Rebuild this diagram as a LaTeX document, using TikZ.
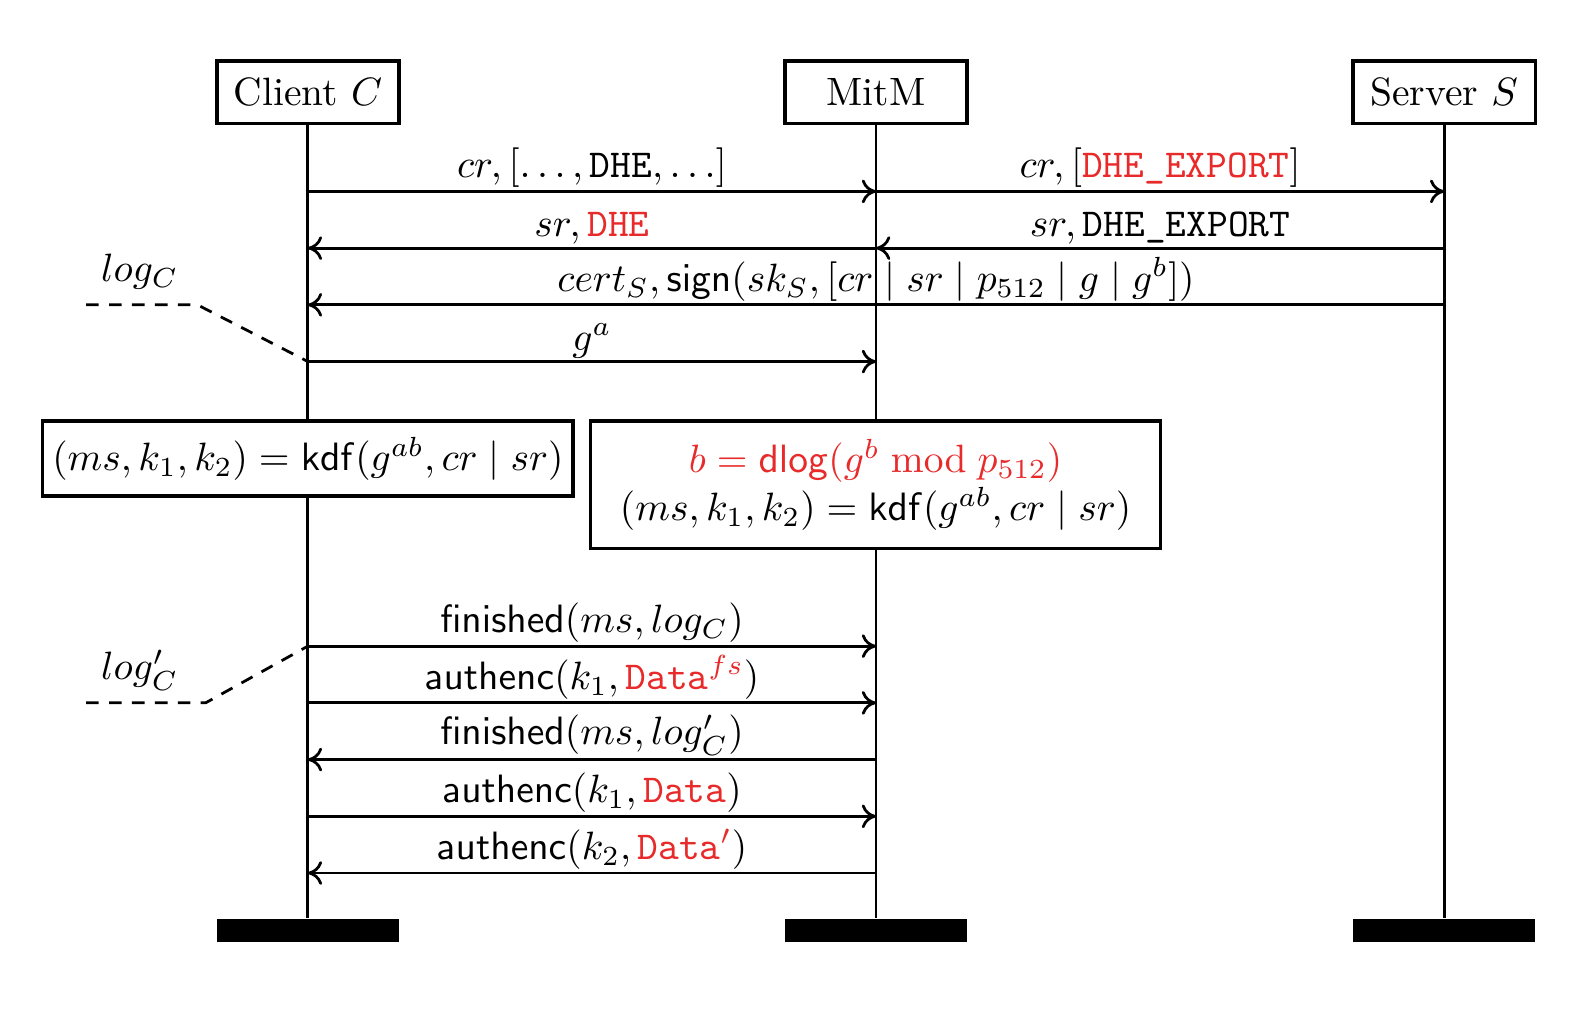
\documentclass[tikz,border=0pt]{standalone}
\usepackage{amsmath}
\usepackage{xcolor}
\usepackage{tikz}
\usetikzlibrary{positioning}
\usetikzlibrary{arrows.meta}
\definecolor{attack}{RGB}{232,42,42}
\newcommand{\atk}[1]{\textcolor{attack}{#1}}
\tikzset{
  inst/.style={draw,line width=0.9pt,minimum width=1.62cm,minimum height=0.558cm,inner sep=0pt}, % Instanzkopf
  instend/.style={fill=black,minimum width=1.62cm,minimum height=0.207cm,inner sep=0pt}, % Instanzende
  lifeline/.style={line width=0.7pt},
  msg/.style={line width=0.7pt,->}, % Nachrichten
  msglabel/.style={above,inner sep=0.6pt},
  action/.style={draw,line width=0.9pt,fill=white,align=center,anchor=north,inner sep=0pt},
  note/.style={line width=0.7pt,dash pattern=on 3.2pt off 2.6pt} % Kommentare
}

\begin{document}
\begin{tikzpicture}[x=0.009cm,y=-0.009cm,
>={To[length=3.6pt,width=6pt]} % Voreinstellung für Pfeilspitzen
]
\useasboundingbox (0,0) rectangle (1568,1013);

%Instanzen
\node[inst] (client) at (304,91) {Client $C$};
\node[inst] (mitm) at (865,91) {MitM};
\node[inst] (server) at (1426,91) {Server $S$};
\node[instend] (clientend) at (304,918.5) {};
\node[instend] (mitmend) at (865,918.5) {};
\node[instend] (serverend) at (1426,918.5) {};

%Lebenslinien
\draw[lifeline] (client) -- (clientend);
\draw[lifeline] (mitm) -- (mitmend);
\draw[lifeline] (server) -- (serverend);

%Punkte auf den Lebenslinien
\foreach \n/\y in {1/189,2/245,3/301,4/357,5/638,6/694,7/750,8/806,9/862}{
  \coordinate (C\n) at (304,\y);
  \coordinate (M\n) at (865,\y);
  \coordinate (S\n) at (1426,\y);
}

%Nachrichten
\draw[msg] (C1) -- node[msglabel]{$cr, [\ldots, \texttt{DHE}, \ldots]$} (M1);
\draw[msg] (M1) -- node[msglabel]{$cr, [\atk{\texttt{DHE\_EXPORT}}]$} (S1);
\draw[msg] (M2) -- node[msglabel]{$sr, \atk{\texttt{DHE}}$} (C2);
\draw[msg] (S2) -- node[msglabel]{$sr, \texttt{DHE\_EXPORT}$} (M2);
\draw[msg] (S3) -- node[msglabel]{$cert_S, \mathsf{sign}(sk_S, [cr \mid sr \mid p_{512} \mid g \mid g^b])$} (C3);
\draw[msg] (C4) -- node[msglabel]{$g^a$} (M4);

%Aktionen
\node[action,minimum width=4.716cm,minimum height=0.666cm] (kdfC) at (304,414)
  {$(ms, k_1, k_2) = \mathsf{kdf}(g^{ab}, cr \mid sr)$};
\node[action,minimum width=5.067cm,minimum height=1.134cm] (kdfM) at (864.5,414)
  {$\atk{b = \mathsf{dlog}(g^b \bmod p_{512})}$\\$(ms, k_1, k_2) = \mathsf{kdf}(g^{ab}, cr \mid sr)$};

\draw[msg] (C5) -- node[msglabel]{$\mathsf{finished}(ms, log_C)$} (M5);
\draw[msg] (C6) -- node[msglabel]{$\mathsf{authenc}(k_1, \atk{\texttt{Data}^{fs}})$} (M6);
\draw[msg] (M7) -- node[msglabel]{$\mathsf{finished}(ms, log'_C)$} (C7);
\draw[msg] (C8) -- node[msglabel]{$\mathsf{authenc}(k_1, \atk{\texttt{Data}})$} (M8);
\draw[msg] (M9) -- node[msglabel]{$\mathsf{authenc}(k_2, \atk{\texttt{Data}'})$} (C9);

%Kommentare
\node (logC) at (138,268) {$log_C$};
\coordinate (logCa) at (85,301);
\coordinate (logCb) at (195,301);
\draw[note] (logCa) -- (logCb) -- (C4);
\node (logCp) at (138,662) {$log'_C$};
\coordinate (logCpa) at (85,694);
\coordinate (logCpb) at (203,694);
\draw[note] (logCpa) -- (logCpb) -- (C5);
\end{tikzpicture}
\end{document}
